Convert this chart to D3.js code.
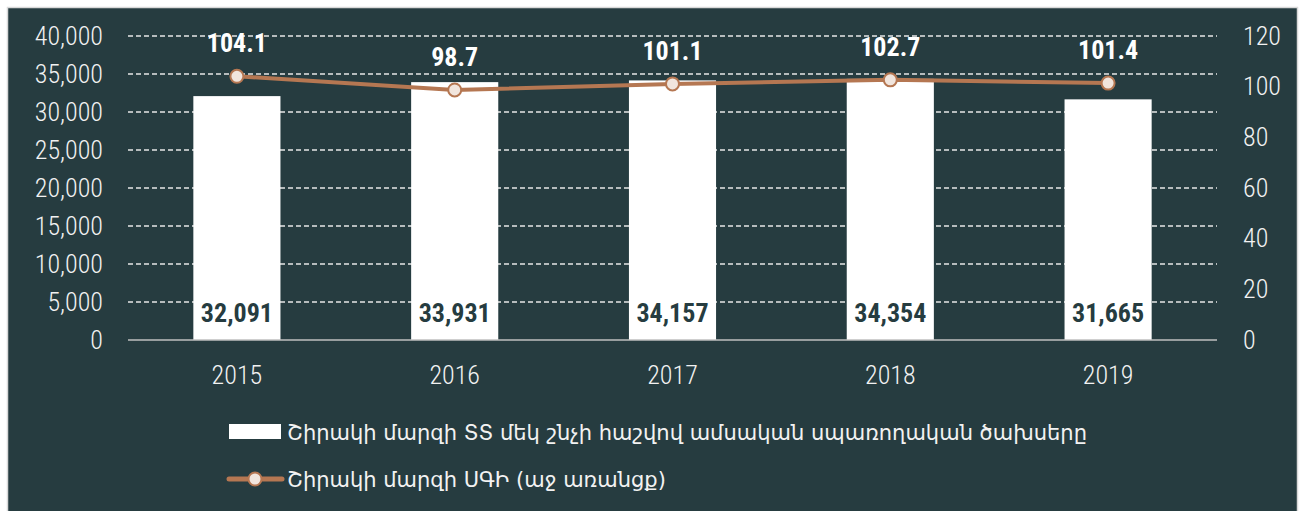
<!DOCTYPE html>
<html>
<head>
<meta charset="utf-8">
<script src="https://cdn.jsdelivr.net/npm/d3@7"></script>
<style>
  html, body { margin: 0; padding: 0; background: #ffffff; }
  svg { display: block; }
</style>
</head>
<body>
<div id="chart"></div>
<script>
// data
const years = ["2015", "2016", "2017", "2018", "2019"];
const spending = [32091, 33931, 34157, 34354, 31665];
const cpi = [104.1, 98.7, 101.1, 102.7, 101.4];
const leftTicks = [0, 5000, 10000, 15000, 20000, 25000, 30000, 35000, 40000];
const rightTicks = [0, 20, 40, 60, 80, 100, 120];
const legendLabels = [
  "Շիրակի մարզի ՏՏ մեկ շնչի հաշվով ամսական սպառողական ծախսերը",
  "Շիրակի մարզի ՍԳԻ (աջ առանցք)"
];

const W = 1299, H = 511;
const bg = "#263c40";
const lineColor = "#b57752";
const markerFill = "#f1e5dd";
const numFont = "'Roboto Condensed', Lato, sans-serif";
const textFont = "'DejaVu Sans', sans-serif";
const fmt = d3.format(",");

const svg = d3.select("#chart").append("svg")
  .attr("width", W).attr("height", H);

// panel
svg.append("rect")
  .attr("x", 7.5).attr("y", 7.5)
  .attr("width", W - 9).attr("height", H)
  .attr("fill", bg)
  .attr("stroke", "#d9d9d9")
  .attr("stroke-width", 1.5);

const plot = { left: 128, right: 1217, top: 36, bottom: 340 };

const x = d3.scaleBand().domain(years)
  .range([plot.left, plot.right]).paddingInner(0.6).paddingOuter(0.3);
const yL = d3.scaleLinear().domain([0, 40000]).range([plot.bottom, plot.top]);
const yR = d3.scaleLinear().domain([0, 120]).range([plot.bottom, plot.top]);

// grid
svg.append("g").selectAll("line")
  .data(leftTicks.filter(d => d > 0))
  .join("line")
  .attr("x1", plot.left).attr("x2", plot.right)
  .attr("y1", d => yL(d)).attr("y2", d => yL(d))
  .attr("stroke", "#e6e6e6")
  .attr("stroke-width", 1.5)
  .attr("stroke-dasharray", "5,3");

function styleTicks(g) {
  g.select(".domain").remove();
  g.selectAll("text")
    .attr("fill", "#f2f2f2")
    .style("font-family", numFont)
    .style("font-weight", "300")
    .style("font-size", "26px");
}

// left axis
svg.append("g")
  .attr("transform", `translate(${plot.left - 25},0)`)
  .call(d3.axisLeft(yL).tickValues(leftTicks).tickFormat(fmt).tickSize(0).tickPadding(0))
  .call(styleTicks);

// right axis
svg.append("g")
  .attr("transform", `translate(${plot.right + 26},0)`)
  .call(d3.axisRight(yR).tickValues(rightTicks).tickSize(0).tickPadding(0))
  .call(styleTicks);

// bars
svg.append("g").selectAll("rect")
  .data(years)
  .join("rect")
  .attr("x", d => x(d))
  .attr("width", x.bandwidth())
  .attr("y", (d, i) => yL(spending[i]))
  .attr("height", (d, i) => yL(0) - yL(spending[i]))
  .attr("fill", "#ffffff");

// bar labels
svg.append("g").selectAll("text")
  .data(years)
  .join("text")
  .attr("x", d => x(d) + x.bandwidth() / 2)
  .attr("y", 322)
  .attr("text-anchor", "middle")
  .attr("fill", bg)
  .style("font-family", numFont)
  .style("font-weight", "bold")
  .style("font-size", "26px")
  .text((d, i) => fmt(spending[i]));

// baseline
svg.append("line")
  .attr("x1", plot.left).attr("x2", plot.right)
  .attr("y1", plot.bottom).attr("y2", plot.bottom)
  .attr("stroke", "#bfbfbf").attr("stroke-width", 1.5);

// x labels
svg.append("g")
  .attr("transform", `translate(0,${plot.bottom})`)
  .call(d3.axisBottom(x).tickSize(0).tickPadding(0))
  .call(styleTicks)
  .selectAll("text")
  .attr("dy", 0).attr("y", 44);

// line
const cx = d => x(d) + x.bandwidth() / 2;
const line = d3.line().x((d, i) => cx(years[i])).y(d => yR(d));
svg.append("path")
  .datum(cpi)
  .attr("d", line)
  .attr("fill", "none")
  .attr("stroke", lineColor)
  .attr("stroke-width", 4);

svg.append("g").selectAll("circle")
  .data(cpi)
  .join("circle")
  .attr("cx", (d, i) => cx(years[i]))
  .attr("cy", d => yR(d))
  .attr("r", 6.5)
  .attr("fill", markerFill)
  .attr("stroke", lineColor)
  .attr("stroke-width", 2);

svg.append("g").selectAll("text")
  .data(cpi)
  .join("text")
  .attr("x", (d, i) => cx(years[i]))
  .attr("y", d => yR(d) - 24)
  .attr("text-anchor", "middle")
  .attr("fill", "#ffffff")
  .style("font-family", numFont)
  .style("font-weight", "bold")
  .style("font-size", "26px")
  .text(d => d.toFixed(1));

// legend
const lg = svg.append("g");
lg.append("rect")
  .attr("x", 229).attr("y", 424)
  .attr("width", 52).attr("height", 15)
  .attr("fill", "#ffffff");
lg.append("text")
  .attr("x", 287).attr("y", 440)
  .attr("fill", "#f2f2f2")
  .style("font-family", textFont)
  .style("font-size", "21px")
  .text(legendLabels[0]);
lg.append("line")
  .attr("x1", 229).attr("x2", 282)
  .attr("y1", 479).attr("y2", 479)
  .attr("stroke", lineColor).attr("stroke-width", 5)
  .attr("stroke-linecap", "round");
lg.append("circle")
  .attr("cx", 255).attr("cy", 479).attr("r", 6.5)
  .attr("fill", markerFill)
  .attr("stroke", lineColor).attr("stroke-width", 2);
lg.append("text")
  .attr("x", 287).attr("y", 487)
  .attr("fill", "#f2f2f2")
  .style("font-family", textFont)
  .style("font-size", "21px")
  .text(legendLabels[1]);
</script>
</body>
</html>
